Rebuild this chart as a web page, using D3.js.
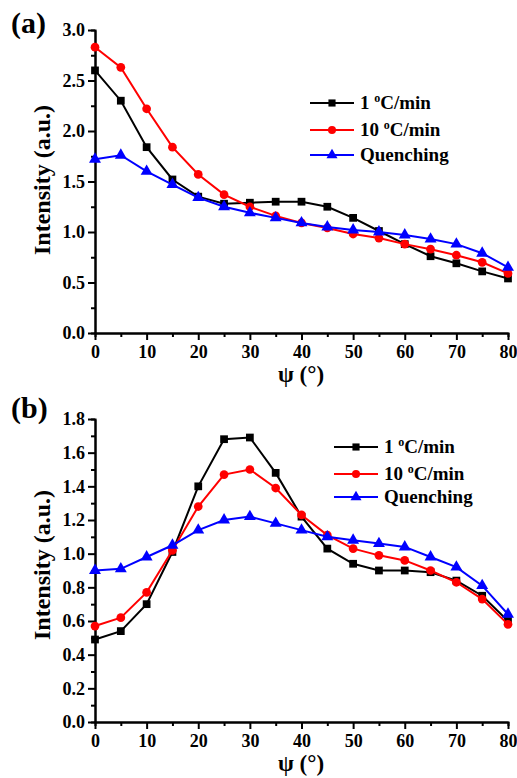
<!DOCTYPE html>
<html>
<head>
<meta charset="utf-8">
<script src="https://cdn.jsdelivr.net/npm/d3@7"></script>
<style>
  body { margin: 0; background: #fff; }
  svg { display: block; font-family: "Liberation Serif", "Times New Roman", serif; font-weight: bold; }
</style>
</head>
<body>
<div id="app"></div>
<script>
// angle psi (degrees)
const psi = [0, 5, 10, 15, 20, 25, 30, 35, 40, 45, 50, 55, 60, 65, 70, 75, 80]

// panel (a)
const a_slow = [2.60, 2.30, 1.84, 1.52, 1.35, 1.28, 1.29, 1.30, 1.30, 1.25, 1.14, 1.01, 0.88, 0.76, 0.69, 0.61, 0.54]
const a_fast = [2.83, 2.63, 2.22, 1.84, 1.57, 1.37, 1.25, 1.16, 1.09, 1.04, 0.98, 0.94, 0.88, 0.83, 0.77, 0.70, 0.59]
const a_quench = [1.72, 1.76, 1.60, 1.47, 1.34, 1.25, 1.19, 1.14, 1.09, 1.05, 1.02, 1.00, 0.97, 0.93, 0.88, 0.79, 0.65]

// panel (b)
const b_slow = [0.49, 0.54, 0.70, 1.01, 1.40, 1.68, 1.69, 1.48, 1.22, 1.03, 0.94, 0.90, 0.90, 0.89, 0.84, 0.75, 0.60]
const b_fast = [0.57, 0.62, 0.77, 1.02, 1.28, 1.47, 1.50, 1.39, 1.23, 1.11, 1.03, 0.99, 0.96, 0.90, 0.83, 0.73, 0.58]
const b_quench = [0.90, 0.91, 0.98, 1.05, 1.14, 1.20, 1.22, 1.18, 1.14, 1.10, 1.08, 1.06, 1.04, 0.98, 0.92, 0.81, 0.64]

// series names, colours and markers
const seriesNames = ['1', '10', 'Quenching']
const seriesColors = ['#000000', '#ff0000', '#0000ff']
const seriesSymbols = [d3.symbolSquare, d3.symbolCircle, d3.symbolTriangle]
const symbolSizes = [60, 60, 62]

// tick values
const xTicks = [0, 10, 20, 30, 40, 50, 60, 70, 80]
const xMinor = [5, 15, 25, 35, 45, 55, 65, 75]
const aTicks = [0, 0.5, 1.0, 1.5, 2.0, 2.5, 3.0]
const aMinor = [0.25, 0.75, 1.25, 1.75, 2.25, 2.75]
const bTicks = [0, 0.2, 0.4, 0.6, 0.8, 1.0, 1.2, 1.4, 1.6, 1.8]
const bMinor = [0.1, 0.3, 0.5, 0.7, 0.9, 1.1, 1.3, 1.5, 1.7]

const W = 517, H = 778
const FONT = '"Liberation Serif", "Times New Roman", serif'

const svg = d3.select('#app').append('svg')
  .attr('width', W)
  .attr('height', H)
  .attr('viewBox', [0, 0, W, H])

// x scale shared by both panels
const x = d3.scaleLinear().domain([0, 80]).range([95, 508])

function panel(cfg) {
  const y = d3.scaleLinear().domain(cfg.domain).range(cfg.range)
  const g = svg.append('g')

  // minor ticks
  g.append('g')
    .attr('transform', `translate(0,${cfg.range[0]})`)
    .call(d3.axisBottom(x).tickValues(xMinor).tickSize(4).tickFormat(''))
  g.append('g')
    .attr('transform', `translate(${x(0)},0)`)
    .call(d3.axisLeft(y).tickValues(cfg.minor).tickSize(4).tickFormat(''))

  // major axes
  g.append('g')
    .attr('transform', `translate(0,${cfg.range[0]})`)
    .call(d3.axisBottom(x).tickValues(xTicks).tickSize(7).tickSizeOuter(0).tickPadding(5).tickFormat(d3.format('d')))
  g.append('g')
    .attr('transform', `translate(${x(0)},0)`)
    .call(d3.axisLeft(y).tickValues(cfg.ticks).tickSize(7).tickSizeOuter(0).tickPadding(3).tickFormat(d3.format(cfg.fmt)))

  g.selectAll('g').attr('font-family', FONT)
  g.selectAll('.domain').attr('stroke', '#000').attr('stroke-width', 2)
  g.selectAll('.tick line').attr('stroke', '#000').attr('stroke-width', 2)
  g.selectAll('.tick text')
    .attr('fill', '#000')
    .style('font-family', FONT)
    .style('font-weight', 'bold')
    .style('font-size', '18px')

  // series: black, red, blue (blue drawn last)
  const line = d3.line().x((d, i) => x(psi[i])).y((d) => y(d))
  cfg.series.forEach((vals, k) => {
    g.append('path')
      .datum(vals)
      .attr('fill', 'none')
      .attr('stroke', seriesColors[k])
      .attr('stroke-width', 2)
      .attr('d', line)
    g.append('g').selectAll('path')
      .data(vals)
      .join('path')
      .attr('transform', (d, i) => `translate(${x(psi[i])},${y(d)})`)
      .attr('d', d3.symbol(seriesSymbols[k], symbolSizes[k]))
      .attr('fill', seriesColors[k])
  })

  // legend
  cfg.legendY.forEach((ly, k) => {
    const lg = g.append('g')
    lg.append('line')
      .attr('x1', cfg.legendX).attr('x2', cfg.legendX + 44)
      .attr('y1', ly).attr('y2', ly)
      .attr('stroke', seriesColors[k]).attr('stroke-width', 2)
    lg.append('path')
      .attr('transform', `translate(${cfg.legendX + 22},${ly})`)
      .attr('d', d3.symbol(seriesSymbols[k], symbolSizes[k] * 0.85))
      .attr('fill', seriesColors[k])
    const t = lg.append('text')
      .attr('x', cfg.legendX + 50)
      .attr('y', ly + 6)
      .style('font-family', FONT)
      .style('font-size', '19px')
    if (k < 2) {
      t.append('tspan').text(seriesNames[k] + ' ')
      t.append('tspan').attr('dy', -7).style('font-size', '12px').text('o')
      t.append('tspan').attr('dy', 7).text('C/min')
    } else {
      t.text(seriesNames[k])
    }
  })

  // axis titles
  g.append('text')
    .attr('transform', `translate(50,${cfg.titleY}) rotate(-90)`)
    .attr('text-anchor', 'middle')
    .style('font-family', FONT)
    .style('font-size', '24px')
    .text('Intensity (a.u.)')
  g.append('text')
    .attr('x', 301)
    .attr('y', cfg.range[0] + 49)
    .attr('text-anchor', 'middle')
    .style('font-family', FONT)
    .style('font-size', '23px')
    .text('ψ (°)')

  // panel label
  g.append('text')
    .attr('x', 11)
    .attr('y', cfg.labelY)
    .style('font-family', FONT)
    .style('font-size', '30px')
    .text(cfg.label)
}

panel({
  domain: [0, 3], range: [333, 30], ticks: aTicks, minor: aMinor, fmt: '.1f',
  series: [a_slow, a_fast, a_quench],
  legendX: 310, legendY: [103, 130, 155],
  titleY: 180, label: '(a)', labelY: 33
})

panel({
  domain: [0, 1.8], range: [722, 419], ticks: bTicks, minor: bMinor, fmt: '.1f',
  series: [b_slow, b_fast, b_quench],
  legendX: 334, legendY: [447, 474, 497],
  titleY: 565, label: '(b)', labelY: 418
})
</script>
</body>
</html>
